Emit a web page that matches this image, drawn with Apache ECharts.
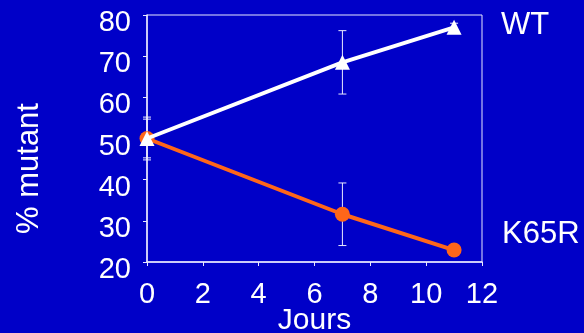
<!DOCTYPE html>
<html><head><meta charset="utf-8">
<script src="https://cdn.jsdelivr.net/npm/echarts@6/dist/echarts.min.js"></script>
<style>html,body{margin:0;padding:0;background:#0000c8;}#c{width:584px;height:333px;}</style>
</head><body><div id="c"></div>
<script>
const days = [0, 7, 11];
const wtValues = [50, 68.5, 77];
const wtErrors = [4.7, 7.7, 1];
const k65rValues = [50, 31.6, 22.9];
const k65rErrors = [5.2, 7.6, 0];
const xTicks = [0, 2, 4, 6, 8, 10, 12];
const yTicks = [20, 30, 40, 50, 60, 70, 80];
const seriesNames = ['WT', 'K65R'];

const FONT = 'Liberation Sans, Arial, sans-serif';
const chart = echarts.init(document.getElementById('c'));

function errData(vals, errs) {
  return days.map((d, i) => [d, vals[i] - errs[i], vals[i] + errs[i]]);
}
function errSeries(vals, errs) {
  return {
    type: 'custom',
    data: errData(vals, errs),
    z: 1,
    clip: false,
    renderItem: function (params, api) {
      const x = api.value(0);
      const lo = api.coord([x, api.value(1)]);
      const hi = api.coord([x, api.value(2)]);
      const w = 4;
      const st = { stroke: '#e8e8ff', lineWidth: 1 };
      return {
        type: 'group',
        children: [
          { type: 'line', shape: { x1: lo[0], y1: lo[1], x2: hi[0], y2: hi[1] }, style: st },
          { type: 'line', shape: { x1: lo[0] - w, y1: lo[1], x2: lo[0] + w, y2: lo[1] }, style: st },
          { type: 'line', shape: { x1: hi[0] - w, y1: hi[1], x2: hi[0] + w, y2: hi[1] }, style: st }
        ]
      };
    }
  };
}

chart.setOption({
  backgroundColor: '#0000c8',
  animation: false,
  grid: { left: 147, right: 102, top: 15, bottom: 71, show: true, borderColor: '#e8e8ff', borderWidth: 1, containLabel: false, outerBoundsMode: 'none' },
  xAxis: {
    type: 'value', min: xTicks[0], max: xTicks[xTicks.length - 1], interval: 2,
    name: 'Jours', nameLocation: 'middle', nameGap: 44, nameMoveOverlap: false,
    nameTextStyle: { color: '#fff', fontSize: 30, fontFamily: FONT },
    axisLine: { lineStyle: { color: '#e8e8ff', width: 1.5 } },
    axisTick: { show: true, inside: false, length: 4, lineStyle: { color: '#e8e8ff' } },
    axisLabel: { color: '#fff', fontSize: 29, fontFamily: FONT, margin: 18 },
    splitLine: { show: false }
  },
  yAxis: {
    type: 'value', min: yTicks[0], max: yTicks[yTicks.length - 1], interval: 10,
    name: '% mutant', nameLocation: 'middle', nameGap: 102,
    nameTextStyle: { color: '#fff', fontSize: 31, fontFamily: FONT, padding: [0, 60, 0, 0] },
    axisLine: { show: true, lineStyle: { color: '#e8e8ff', width: 1.5 } },
    axisTick: { show: true, inside: false, length: 4, lineStyle: { color: '#e8e8ff' } },
    axisLabel: { color: '#fff', fontSize: 29, fontFamily: FONT, margin: 16, verticalAlign: 'top', lineHeight: 16 },
    splitLine: { show: false }
  },
  graphic: [
    { type: 'text', left: 501, top: 10, style: { text: seriesNames[0], fill: '#fff', fontSize: 31, fontFamily: FONT } },
    { type: 'text', left: 502, top: 219, style: { text: seriesNames[1], fill: '#fff', fontSize: 31, fontFamily: FONT } }
  ],
  series: [
    errSeries(wtValues, wtErrors),
    errSeries(k65rValues, k65rErrors),
    {
      name: seriesNames[1], type: 'line', data: days.map((d, i) => [d, k65rValues[i]]),
      symbol: 'circle', symbolSize: 15, clip: false, z: 3,
      lineStyle: { color: '#ff6619', width: 4 }, itemStyle: { color: '#ff6619' }
    },
    {
      name: seriesNames[0], type: 'line', data: days.map((d, i) => [d, wtValues[i]]),
      symbol: 'triangle', symbolSize: 15, clip: false, z: 4,
      lineStyle: { color: '#ffffff', width: 4 }, itemStyle: { color: '#ffffff' }
    }
  ]
});
</script></body></html>
